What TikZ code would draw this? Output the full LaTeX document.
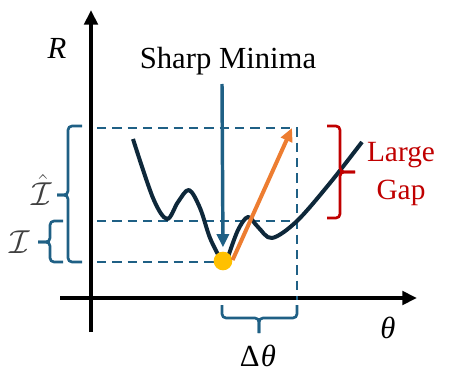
\documentclass[tikz,border=0pt]{standalone}
\usepackage{fontspec}
\setmainfont{Liberation Serif}
\usetikzlibrary{arrows.meta}
\definecolor{dblue}{RGB}{31,96,133}
\definecolor{curvec}{RGB}{14,40,58}
\definecolor{orng}{RGB}{237,125,49}
\definecolor{gold}{RGB}{255,192,0}
\definecolor{dred}{RGB}{192,0,0}
\definecolor{lbl}{RGB}{64,64,64}
\tikzset{
  axis/.style={line width=3.6pt,-{Triangle[length=11pt,width=10pt]}},
  guide/.style={dblue,line width=1.8pt,dash pattern=on 7pt off 4.5pt},
  bracebl/.style={dblue,line width=2pt,rounded corners=3pt},
  bracerd/.style={dred,line width=2pt,rounded corners=3pt},
  txt/.style={inner sep=0pt,font=\fontsize{23}{26}\selectfont},
}
\begin{document}
\begin{tikzpicture}[x=0.75pt,y=-0.75pt]
\useasboundingbox (0,0) rectangle (468,385);
% axes
\coordinate (yb) at (91,332);
\coordinate (yt) at (91,10);
\coordinate (xl) at (60,298);
\coordinate (xr) at (417,298);
\draw[axis] (yb) -- (yt);
\draw[axis] (xl) -- (xr);
\node[txt] (R) at (57,48) {\itshape R};
\node[txt] (th) at (388,328) {\itshape θ};
% guide lines
\coordinate (g1l) at (97,128);
\coordinate (g1r) at (297,128);
\coordinate (g2l) at (97,221);
\coordinate (g2r) at (297,221);
\coordinate (g3l) at (97,262);
\coordinate (g3r) at (215,262);
\coordinate (gvb) at (297,300);
\draw[guide] (g1l) -- (g1r) -- (gvb);
\draw[guide] (g2l) -- (g2r);
\draw[guide] (g3l) -- (g3r);
% curve
\draw[curvec,line width=3pt,line join=round]
  plot[smooth,tension=0.55] coordinates {(133,139) (153,198) (167,219) (178,202) (189,190) (200,208) (210,238) (221,260)}
  -- plot[smooth,tension=0.55] coordinates {(228,257) (238,230) (248,217) (258,227) (272,238) (297,221) (330,183) (362,142)};
% dot
\node[circle,fill=gold,minimum size=14pt,inner sep=0pt] (dot) at (223,261) {};
% sharp minima
\node[txt] (sm) at (228,61) {Sharp Minima};
\coordinate (smb) at (222,84);
\draw[dblue,line width=2.6pt,-{Triangle[length=10pt,width=9pt]}] (smb) -- (dot.north) [shorten >=3pt];
% orange arrow
\coordinate (oa) at (292,128);
\draw[orng,line width=3pt,-{Triangle[length=10pt,width=9pt]}] (dot.east) ++(0,-1) coordinate (os) (os) -- (oa);
% left braces
\coordinate (bI) at (57,195);
\draw[bracebl] (82,126) -- (68,126) -- (68,195) -- (bI);
\draw[bracebl] (bI) -- (68,195) -- (68,262) -- (82,262);
\node[lbl,inner sep=0pt,font=\fontsize{24}{26}\selectfont] (Ih) at (42,190) {$\hat{\mathcal{I}}$};
\coordinate (bi) at (38,242);
\draw[bracebl] (63,221) -- (50,221) -- (50,242) -- (bi);
\draw[bracebl] (bi) -- (50,242) -- (50,262) -- (63,262);
\node[lbl,inner sep=0pt,font=\fontsize{24}{26}\selectfont] (Ii) at (20,242) {$\mathcal{I}$};
% bottom brace
\coordinate (bd) at (259,333);
\draw[bracebl] (222,305) -- (222,318) -- (259,318) -- (bd);
\draw[bracebl] (bd) -- (259,318) -- (297,318) -- (297,305);
\node[txt] (dt) at (258,356) {Δ\kern1pt\itshape θ};
% red brace
\coordinate (br) at (355,172);
\draw[bracerd] (327,126) -- (340,126) -- (340,172) -- (br);
\draw[bracerd] (br) -- (340,172) -- (340,218) -- (327,218);
\node[txt,dred,align=center,font=\fontsize{22}{28}\selectfont] (lg) at (401,174) {Large\\Gap};
\end{tikzpicture}
\end{document}
